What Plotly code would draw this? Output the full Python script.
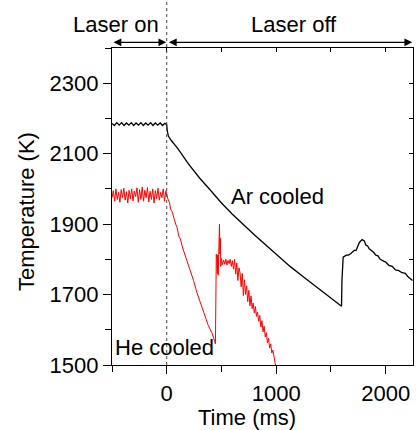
import plotly.graph_objects as go

# ---- Ar cooled (black) ----
ar_time = [-500, -478, -456, -434, -412, -390, -368, -346, -324, -302, -280, -258,
           -236, -214, -192, -170, -148, -126, -104, -82, -60, -38, -16, -4,
           0, 5, 15, 40, 100, 200, 300, 400, 500, 600, 700, 800, 900, 1000,
           1127, 1250, 1400, 1500, 1597,
           1601, 1605, 1612, 1640, 1660, 1680, 1700, 1715, 1730, 1745, 1760, 1785,
           1805, 1820, 1835, 1850, 1870, 1890, 1910, 1930, 1950, 1975, 2000,
           2030, 2060, 2090, 2120, 2150, 2180, 2200, 2225, 2245]
ar_temp = [2186, 2180, 2188, 2181, 2188, 2180, 2187, 2181, 2188, 2180, 2187, 2181,
           2188, 2180, 2187, 2181, 2188, 2180, 2187, 2181, 2187, 2180, 2186, 2182,
           2182, 2165, 2150, 2138, 2115, 2070, 2031, 1996, 1960, 1928, 1898, 1870, 1842, 1815,
           1780, 1750, 1714, 1690, 1667,
           1740, 1795, 1806, 1812, 1812, 1816, 1822, 1826, 1825, 1838, 1848, 1856,
           1852, 1840, 1838, 1830, 1826, 1820, 1812, 1810, 1800, 1797, 1792,
           1783, 1780, 1770, 1768, 1762, 1760, 1752, 1746, 1740]

# ---- He cooled (red) ----
he_time = [-500, -488, -476, -464, -452, -440, -428, -416, -404, -392, -380, -368,
           -356, -344, -332, -320, -308, -296, -284, -272, -260, -248, -236, -224,
           -212, -200, -188, -176, -164, -152, -140, -128, -116, -104, -92, -80,
           -68, -56, -44, -32, -20, -8,
           0, 10, 25, 36, 50, 60, 70, 82, 95, 110, 125, 143, 165, 190, 218, 245,
           275, 309, 340, 380, 415, 445,
           450, 453, 458, 462, 466, 470, 475, 478, 482, 486, 490, 494, 500, 510,
           520, 530, 540, 550, 560, 570, 580, 590, 600, 610, 620, 630, 640, 650,
           660, 670, 680, 690, 700, 710, 720, 730, 740, 750, 760, 770, 780, 790,
           800, 810, 820, 830, 840, 850, 860, 870, 880, 890, 900, 910, 920, 930,
           940, 950, 960, 970, 980, 990, 1000]
he_temp = [1975, 1995, 1965, 2000, 1970, 1990, 1962, 1998, 1975, 2002, 1968, 1992,
           1960, 1996, 1972, 2000, 1966, 1994, 1978, 2003, 1962, 1998, 1970, 2005,
           1965, 1996, 1975, 2004, 1963, 1993, 1970, 2000, 1960, 1995, 1972, 2002,
           1968, 1990, 1975, 2000, 1965, 1995,
           1985, 1972, 1962, 1942, 1935, 1920, 1912, 1900, 1890, 1866, 1858, 1835, 1815, 1792, 1763, 1740,
           1706, 1672, 1648, 1612, 1590, 1560,
           1700, 1815, 1800, 1760, 1812, 1755, 1880, 1840, 1900, 1815, 1860, 1780, 1802, 1785,
           1798, 1786, 1800, 1784, 1797, 1788, 1800, 1780, 1796, 1772, 1800, 1758, 1790, 1740,
           1776, 1762, 1722, 1760, 1697, 1742, 1700, 1725, 1680, 1712, 1668, 1696, 1660, 1676,
           1648, 1666, 1638, 1650, 1624, 1641, 1608, 1626, 1594, 1610, 1580, 1592, 1563, 1576,
           1548, 1560, 1534, 1542, 1516, 1506, 1490]

FONT = "Liberation Sans, Arial, sans-serif"

fig = go.Figure()
fig.add_trace(go.Scatter(x=ar_time, y=ar_temp, mode="lines",
                         line=dict(color="black", width=1.3), showlegend=False, hoverinfo="skip"))
fig.add_trace(go.Scatter(x=he_time, y=he_temp, mode="lines",
                         line=dict(color="#ff0000", width=1), showlegend=False, hoverinfo="skip"))
# invisible trace to activate mirrored inside-tick axes
fig.add_trace(go.Scatter(x=[-500], y=[1500], xaxis="x2", yaxis="y2", mode="lines",
                         showlegend=False, hoverinfo="skip"))

axis_common = dict(showgrid=False, zeroline=False, showline=True, linecolor="black",
                   linewidth=1.2, ticks="outside", ticklen=8, tickwidth=1.2, tickcolor="black",
                   tickfont=dict(family=FONT, size=22, color="black"))

fig.update_layout(
    width=417, height=430,
    margin=dict(l=112, r=4, t=48, b=65),
    plot_bgcolor="white", paper_bgcolor="white",
    font=dict(family=FONT, size=22, color="black"),
    hovermode=False,
    xaxis=dict(range=[-500, 2250], tick0=0, dtick=1000, mirror=True,
               minor=dict(dtick=500, ticks="outside", ticklen=6, tickwidth=1.2, tickcolor="black"),
               **axis_common),
    yaxis=dict(range=[1500, 2400], tick0=1500, dtick=200, mirror=True,
               minor=dict(dtick=100, ticks="outside", ticklen=6, tickwidth=1.2, tickcolor="black"),
               **axis_common),
    xaxis2=dict(range=[-500, 2250], overlaying="x", side="top", anchor="y2",
                showgrid=False, zeroline=False, showline=False, showticklabels=False,
                ticks="inside", ticklen=4, tickwidth=1, tickcolor="black", tick0=0, dtick=500),
    yaxis2=dict(range=[1500, 2400], overlaying="y", side="right", anchor="x2",
                showgrid=False, zeroline=False, showline=False, showticklabels=False,
                ticks="inside", ticklen=4, tickwidth=1, tickcolor="black", tick0=1500, dtick=100),
)

# dotted line at t = 0
fig.add_shape(type="line", xref="x", yref="paper", x0=0, x1=0, y0=0, y1=1.15,
              line=dict(color="#444444", width=1, dash="dot"))

# arrows
fig.add_annotation(x=-4, y=1.018, xref="x", yref="paper", ax=-500, ay=0, axref="x",
                   text="", showarrow=True, arrowhead=2, arrowside="end+start",
                   arrowsize=1.3, arrowwidth=1.2, arrowcolor="black")
fig.add_annotation(x=2243, y=1.018, xref="x", yref="paper", ax=6, ay=0, axref="x",
                   text="", showarrow=True, arrowhead=2, arrowside="end+start",
                   arrowsize=1.3, arrowwidth=1.2, arrowcolor="black")

# texts
fig.add_annotation(x=0.013, y=1.073, xref="paper", yref="paper", text="Laser on",
                   showarrow=False, font=dict(family=FONT, size=22), xanchor="center", yanchor="middle")
fig.add_annotation(x=0.605, y=1.073, xref="paper", yref="paper", text="Laser off",
                   showarrow=False, font=dict(family=FONT, size=22), xanchor="center", yanchor="middle")
fig.add_annotation(x=1015, y=1977, xref="x", yref="y", text="Ar cooled",
                   showarrow=False, font=dict(family=FONT, size=22), xanchor="center", yanchor="middle")
fig.add_annotation(x=-21, y=1551, xref="x", yref="y", text="He cooled",
                   showarrow=False, font=dict(family=FONT, size=22), xanchor="center", yanchor="middle")
# axis titles
fig.add_annotation(x=0.449, y=-0.167, xref="paper", yref="paper", text="Time (ms)",
                   showarrow=False, font=dict(family=FONT, size=22), xanchor="center", yanchor="middle")
fig.add_annotation(x=-0.282, y=0.483, xref="paper", yref="paper", text="Temperature (K)",
                   textangle=-90, showarrow=False, font=dict(family=FONT, size=22),
                   xanchor="center", yanchor="middle")

fig.write_html("out.html", config={"displayModeBar": False},
               post_script="document.body.style.margin='0px';document.body.style.overflow='hidden';")
